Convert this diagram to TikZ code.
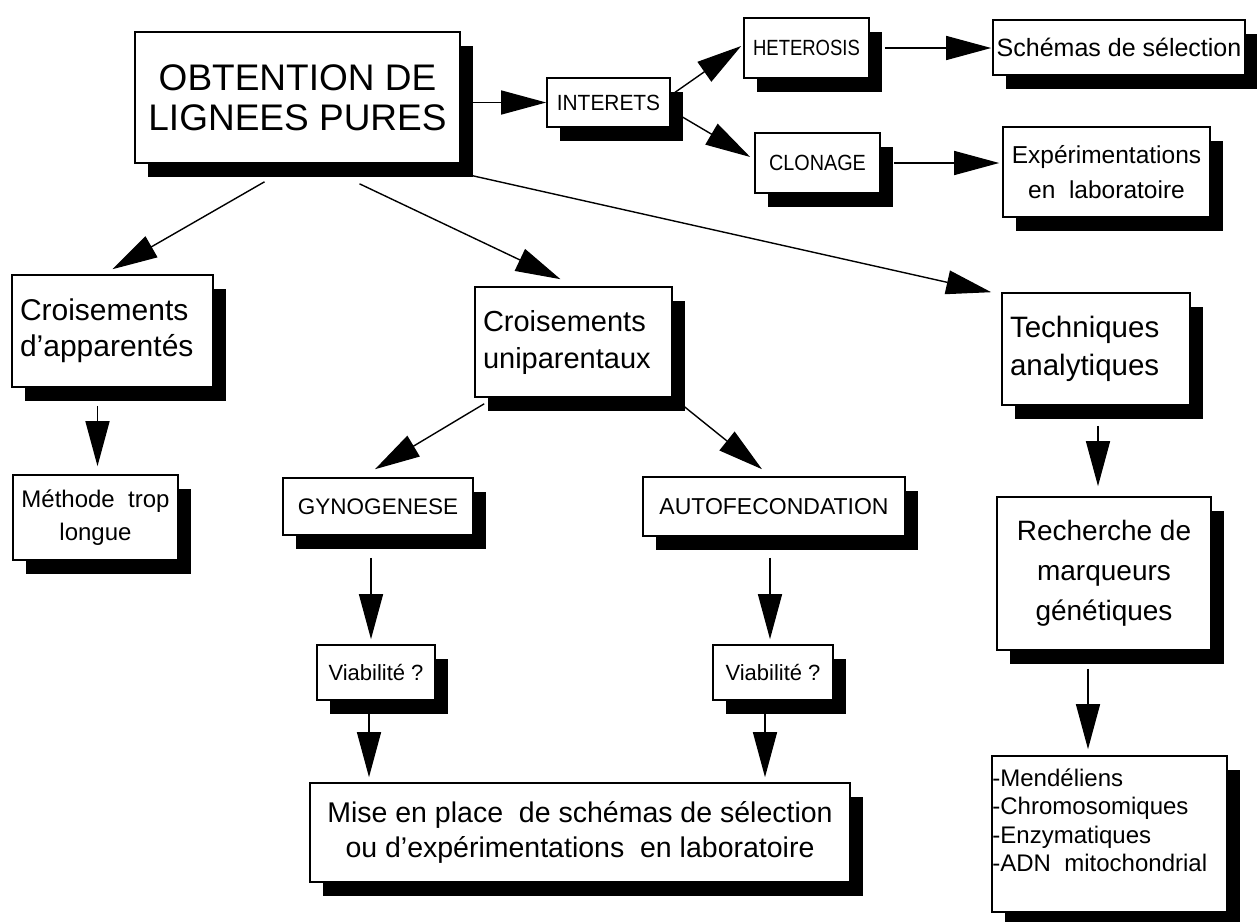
\documentclass[tikz,border=0pt]{standalone}
\usepackage{fontspec}
\setmainfont{Liberation Sans}
\usetikzlibrary{arrows.meta,shadows,calc}
\newcommand{\myfs}[2]{\fontsize{#1}{#2}\selectfont}
\newcommand{\cond}[2]{\scalebox{#1}[1]{#2}}
\tikzset{
  box/.style={draw, fill=white, line width=1.6pt, inner sep=0pt, align=center,
    drop shadow={shadow xshift=13pt, shadow yshift=-14pt, fill=black, opacity=1}},
  arr/.style={line width=1.4pt, -{Triangle[length=45pt,width=24pt]}},
}
\begin{document}
\begin{tikzpicture}[x=1pt,y=-1pt]
\useasboundingbox[fill=white] (0,0) rectangle (1257,921);
% nodes
\node[box, minimum width=325pt, minimum height=131pt, font=\myfs{37}{40}] (obt) at (297.5,97.5) {OBTENTION DE\\LIGNEES PURES};
\node[box, minimum width=123pt, minimum height=49pt, font=\myfs{22}{26}] (int) at (608.5,102.5) {\cond{0.95}{INTERETS}};
\node[box, minimum width=125pt, minimum height=60pt, font=\myfs{22}{26}] (het) at (806.5,48) {\cond{0.84}{HETEROSIS}};
\node[box, minimum width=252pt, minimum height=55pt, font=\myfs{25}{29}] (sch) at (1119,47.5) {Schémas de sélection};
\node[box, minimum width=125pt, minimum height=60pt, font=\myfs{22}{26}] (clo) at (817.5,163) {\cond{0.9}{CLONAGE}};
\node[box, minimum width=207pt, minimum height=90pt, font=\myfs{24.5}{35}] (exp) at (1106.5,172) {Expérimentations\\en\ \ laboratoire};
\node[box, minimum width=201pt, minimum height=112pt, text width=185pt, align=left, font=\myfs{30}{36}] (app) at (112.5,331) {Croisements\\d’apparentés};
\node[box, minimum width=165pt, minimum height=85pt, font=\myfs{24}{33}] (meth) at (95.5,517.5) {Méthode\ \ trop\\longue};
\node[box, minimum width=197pt, minimum height=110pt, text width=181pt, align=left, font=\myfs{29}{37}] (uni) at (573.5,342) {Croisements\\uniparentaux};
\node[box, minimum width=188pt, minimum height=112pt, text width=172pt, align=left, font=\myfs{29.5}{38}] (tech) at (1096,349) {Techniques\\analytiques};
\node[box, minimum width=190pt, minimum height=57pt, font=\myfs{22.5}{26}] (gyn) at (378,506.5) {GYNOGENESE};
\node[box, minimum width=262pt, minimum height=59pt, font=\myfs{23}{27}] (auto) at (774,506.5) {AUTOFECONDATION};
\node[box, minimum width=214pt, minimum height=153pt, font=\myfs{28}{40}] (rech) at (1104,573.5) {Recherche de\\marqueurs\\génétiques};
\node[box, minimum width=118pt, minimum height=55pt, font=\myfs{22}{26}] (v1) at (376,672.5) {Viabilité ?};
\node[box, minimum width=120pt, minimum height=55pt, font=\myfs{22}{26}] (v2) at (773,672.5) {Viabilité ?};
\node[box, minimum width=540pt, minimum height=99pt, font=\myfs{28.5}{35}] (mise) at (580,832.5) {Mise en place\ \ de schémas de sélection\\ou d’expérimentations\ \ en laboratoire};
\node[box, minimum width=235pt, minimum height=156pt] (mark) at (1109.5,834) {};
\node[anchor=north west, inner sep=0pt, align=left, font=\myfs{24}{28.5}] (marktext) at ($(mark.north west)+(1,13)$) {-Mendéliens\\-Chromosomiques\\-Enzymatiques\\-ADN\ \ mitochondrial};
% connectors
\draw[arr] ($(obt.east |- int.west)+(12,0)$) -- (int.west);
\draw[arr] ($(int.east)+(4,-10)$) -- ($(het.west)+(-2,-2)$);
\draw[arr] ($(int.east)+(4,10)$) -- ($(clo.west)+(-4,-6)$);
\draw[arr] ($(het.east)+(15,0)$) -- ($(sch.west |- het.east)+(-1,0)$);
\draw[arr] ($(clo.east)+(13,0)$) -- ($(exp.west |- clo.east)+(-3,0)$);
\draw[arr] ($(obt.south)+(-33,18)$) -- ($(app.north)+(0,-5)$);
\draw[arr] ($(obt.south)+(62,20)$) -- ($(uni.north)+(-13,-7)$);
\draw[arr] ($(obt.south east)+(12,12)$) -- ($(tech.north west)+(-10,0)$);
\draw[arr] ($(app.south)+(-15,18)$) -- ($(meth.north)+(2,-8)$);
\draw[arr] ($(uni.south west)+(10,6)$) -- ($(gyn.north)+(-3,-8)$);
\draw[arr] ($(uni.south east)+(8,6)$) -- ($(auto.north)+(-12,-7)$);
\draw[arr] ($(tech.south)+(2,20)$) -- ($(rech.north)+(-6,-10)$);
\draw[arr] ($(gyn.south)+(-7,22)$) -- ($(v1.north)+(-5,-5)$);
\draw[arr] ($(auto.south)+(-4,21)$) -- ($(v2.north)+(-3,-5)$);
\draw[arr] ($(v1.south)+(-7,12)$) -- ($(mise.north)+(-211,-5)$);
\draw[arr] ($(v2.south)+(-8,12)$) -- ($(mise.north)+(185,-5)$);
\draw[arr] ($(rech.south)+(-16,18)$) -- ($(mark.north)+(-21.5,-6)$);
\end{tikzpicture}
\end{document}
